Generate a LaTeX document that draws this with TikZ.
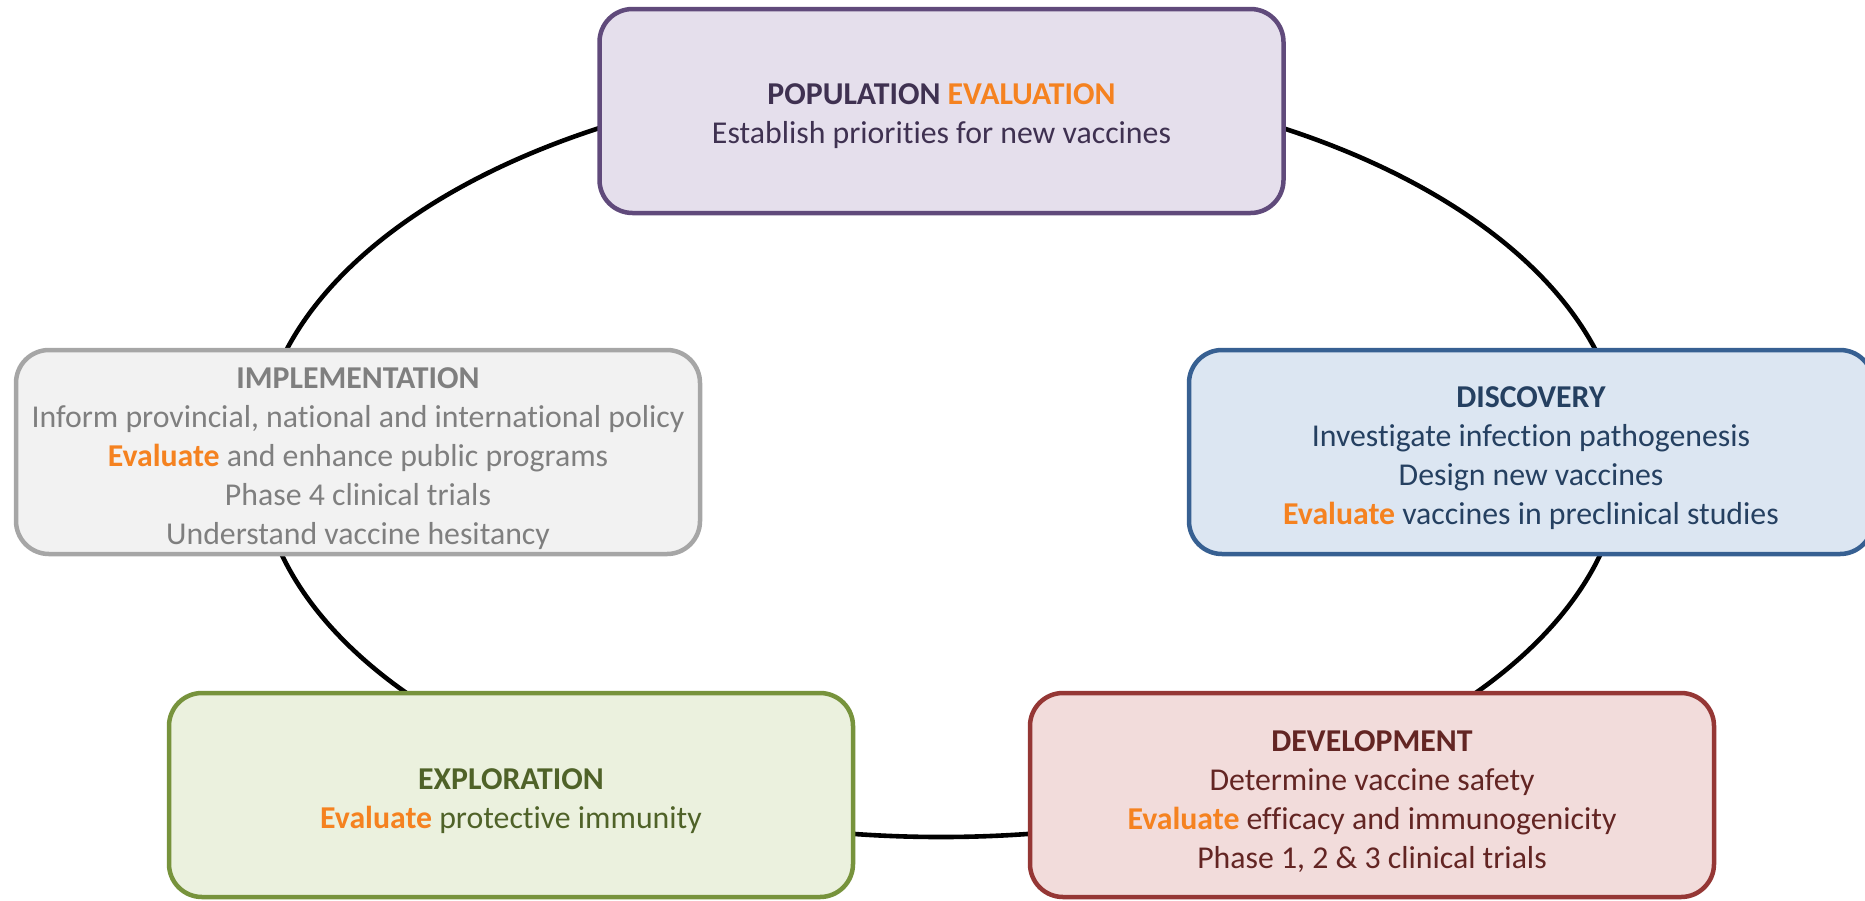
\documentclass[tikz,border=0pt]{standalone}
\usepackage{fontspec}
\setmainfont{Carlito}[Ligatures={NoCommon,NoRequired,NoContextual}]

\definecolor{evorange}{HTML}{F58220}
\definecolor{popfill}{HTML}{E5DFEC}
\definecolor{popline}{HTML}{604A7B}
\definecolor{poptext}{HTML}{3F3151}
\definecolor{impfill}{HTML}{F2F2F2}
\definecolor{impline}{HTML}{A6A6A6}
\definecolor{imptext}{HTML}{7F7F7F}
\definecolor{disfill}{HTML}{DCE6F2}
\definecolor{disline}{HTML}{376092}
\definecolor{distext}{HTML}{254061}
\definecolor{expfill}{HTML}{EBF1DE}
\definecolor{expline}{HTML}{77933C}
\definecolor{exptext}{HTML}{4F6228}
\definecolor{devfill}{HTML}{F2DCDB}
\definecolor{devline}{HTML}{953735}
\definecolor{devtext}{HTML}{632523}

\newcommand\evword{\textbf{\textcolor{evorange}{Evaluate}}}

\tikzset{
  stage/.style={draw, rounded corners=33pt, line width=4.5pt,
    minimum width=684pt, minimum height=204pt, inner sep=0pt},
  stagetext/.style={inner sep=0pt, align=center,
    font=\fontsize{31.8}{39}\selectfont},
  cycleline/.style={draw=black, line width=4.6pt}
}

\begin{document}
\begin{tikzpicture}[x=1pt,y=-1pt]
\useasboundingbox (0,0) rectangle (1865,900);
\clip (0,0) rectangle (1865,900);

% the research cycle behind the stages
\draw[cycleline] (941,457) ellipse [x radius=682, y radius=380];

% stage boxes
\node[stage, fill=popfill, draw=popline] (pop) at (941.5,111) {};
\node[stage, fill=impfill, draw=impline] (imp) at (358,452) {};
\node[stage, fill=disfill, draw=disline] (dis) at (1531,452) {};
\node[stage, fill=expfill, draw=expline] (exp) at (511,795) {};
\node[stage, fill=devfill, draw=devline] (dev) at (1372,795) {};

% stage texts
\node[stagetext, text=poptext] (poptxt) at ([yshift=-5pt]pop.center)
  {\textbf{POPULATION \textcolor{evorange}{EVALUATION}}\\
   Establish priorities for new vaccines};

\node[stagetext, text=imptext] (imptxt) at ([yshift=-7pt]imp.center)
  {\textbf{IMPLEMENTATION}\\
   Inform provincial, national and international policy\\
   \evword{} and enhance public programs\\
   Phase 4 clinical trials\\
   Understand vaccine hesitancy};

\node[stagetext, text=distext] (distxt) at ([yshift=-6pt]dis.center)
  {\textbf{DISCOVERY}\\
   Investigate infection pathogenesis\\
   Design new vaccines\\
   \evword{} vaccines in preclinical studies};

\node[stagetext, text=exptext] (exptxt) at ([yshift=-6pt]exp.center)
  {\textbf{EXPLORATION}\\
   \evword{} protective immunity};

\node[stagetext, text=devtext] (devtxt) at ([yshift=-7pt]dev.center)
  {\textbf{DEVELOPMENT}\\
   Determine vaccine safety\\
   \evword{} efficacy and immunogenicity\\
   Phase 1, 2 \& 3 clinical trials};
\end{tikzpicture}
\end{document}
